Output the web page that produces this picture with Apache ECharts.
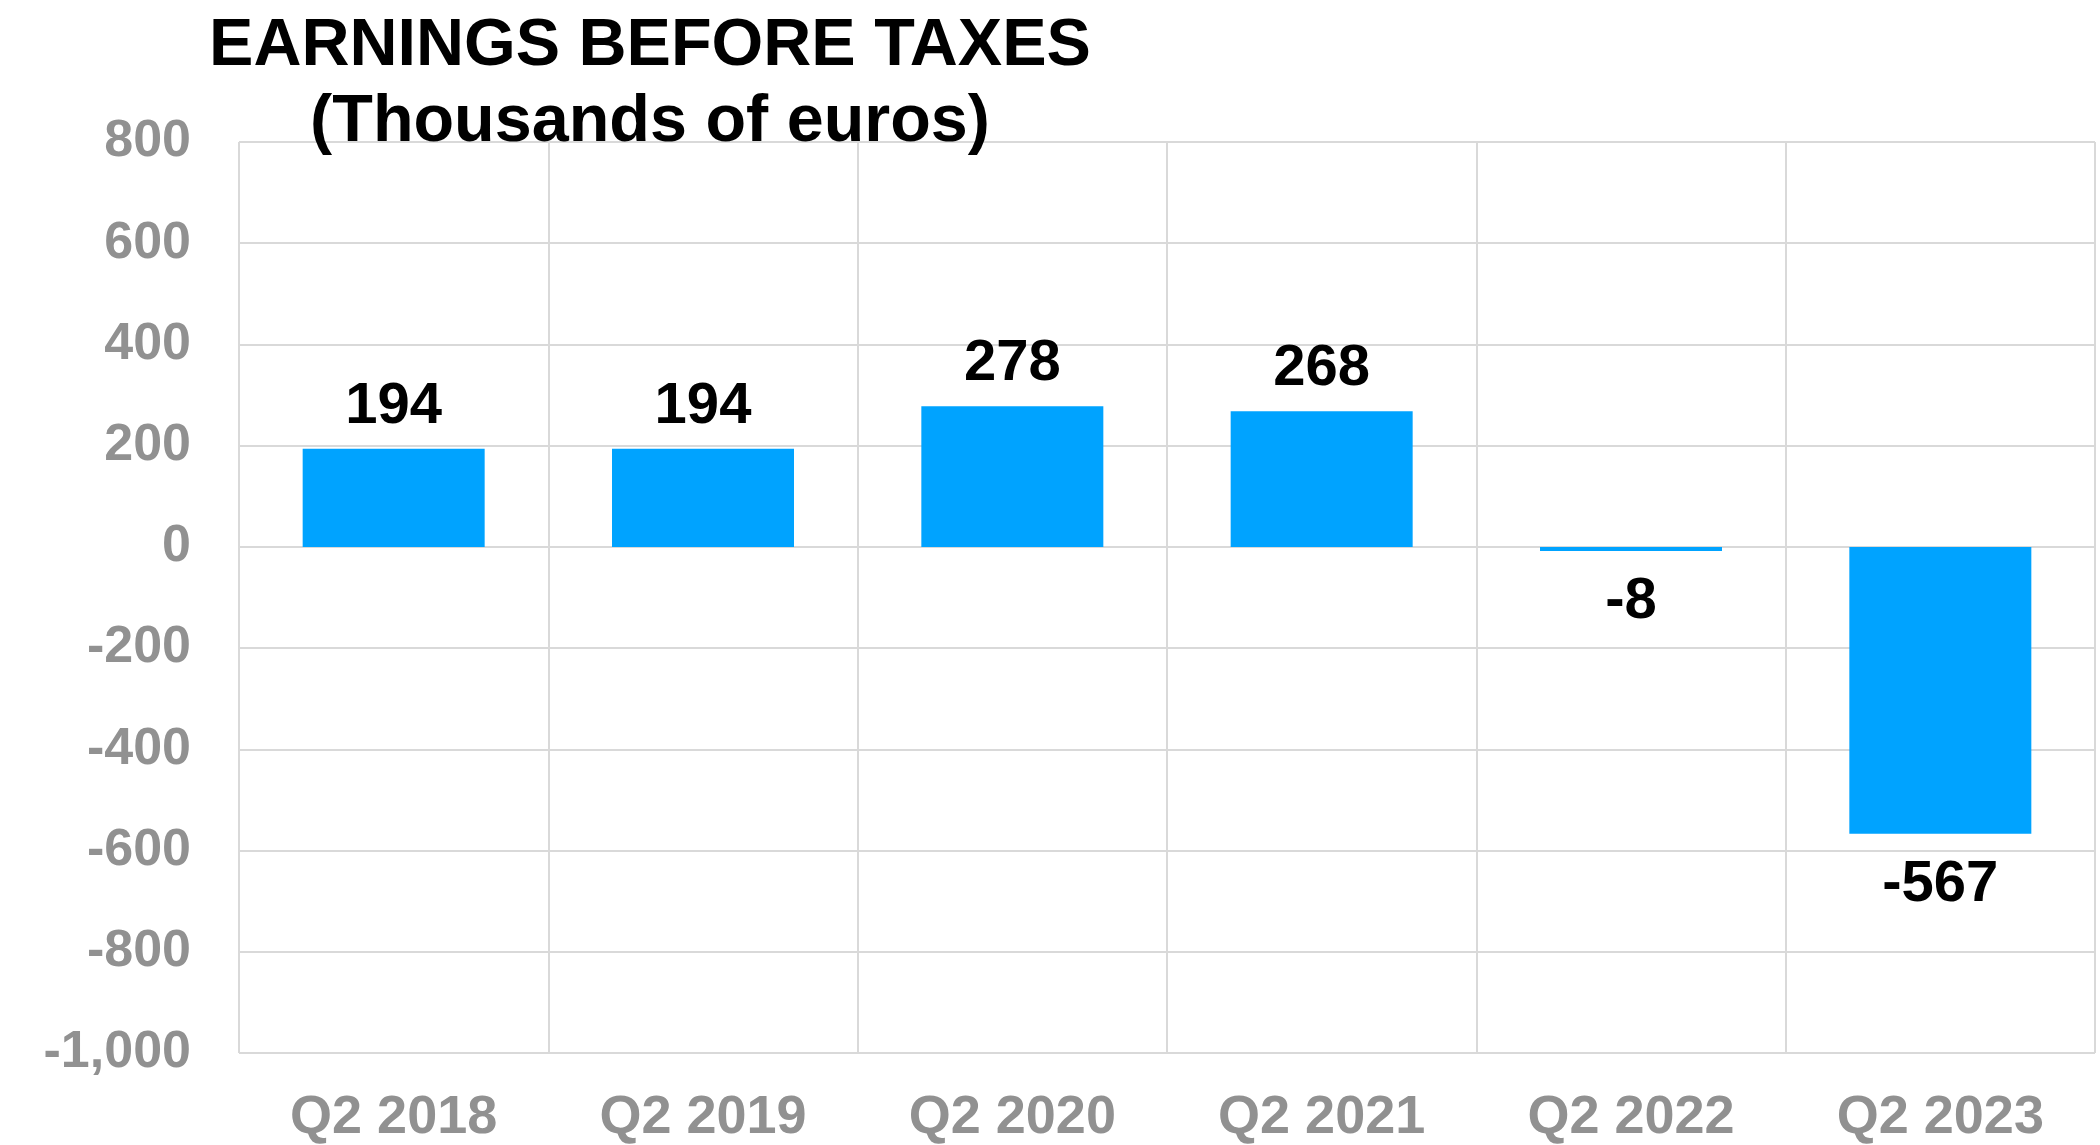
<!DOCTYPE html>
<html>
<head>
<meta charset="utf-8">
<script src="https://cdn.jsdelivr.net/npm/echarts@6/dist/echarts.min.js"></script>
<style>
  html, body { margin: 0; padding: 0; background: #fff; }
  #chart { width: 2100px; height: 1145px; }
</style>
</head>
<body>
<div id="chart"></div>
<script>
// data
const quarters = ['Q2 2018', 'Q2 2019', 'Q2 2020', 'Q2 2021', 'Q2 2022', 'Q2 2023']
const earnings = [194, 194, 278, 268, -8, -567]

const FONT = '"Liberation Sans", Arial, sans-serif'
const GRID_COLOR = '#d9d9d9'
const AXIS_TEXT = '#919191'

const chart = echarts.init(document.getElementById('chart'))

chart.setOption({
  backgroundColor: '#fff',
  animation: false,
  title: {
    text: 'EARNINGS BEFORE TAXES\n(Thousands of euros)',
    left: 650,
    top: 9,
    padding: 0,
    textAlign: 'center',
    textStyle: {
      fontFamily: FONT,
      fontSize: 66.5,
      fontWeight: 'bold',
      color: '#000',
      lineHeight: 76
    }
  },
  grid: {
    left: 239,
    right: 5,
    top: 142,
    bottom: 92,
    containLabel: false
  },
  xAxis: {
    type: 'category',
    data: quarters,
    axisLine: { show: false },
    axisTick: { show: false },
    axisLabel: {
      color: AXIS_TEXT,
      fontFamily: FONT,
      fontSize: 54,
      fontWeight: 'bold',
      margin: 38
    },
    splitLine: {
      show: true,
      interval: 0,
      lineStyle: { color: GRID_COLOR, width: 2 }
    }
  },
  yAxis: {
    type: 'value',
    min: -1000,
    max: 800,
    interval: 200,
    axisLine: { show: false },
    axisTick: { show: false },
    axisLabel: {
      color: AXIS_TEXT,
      fontFamily: FONT,
      fontSize: 52,
      fontWeight: 'bold',
      margin: 48,
      formatter: v => v.toLocaleString('en-US')
    },
    splitLine: {
      lineStyle: { color: GRID_COLOR, width: 2 }
    }
  },
  series: [
    {
      type: 'bar',
      data: earnings.map(v => ({
        value: v,
        label: v < 0 ? { position: 'bottom', distance: 22 } : { position: 'top', distance: 13 }
      })),
      barWidth: 182,
      itemStyle: { color: '#00a3ff' },
      label: {
        show: true,
        color: '#000',
        fontFamily: FONT,
        fontSize: 58,
        fontWeight: 'bold'
      }
    }
  ]
})
</script>
</body>
</html>
